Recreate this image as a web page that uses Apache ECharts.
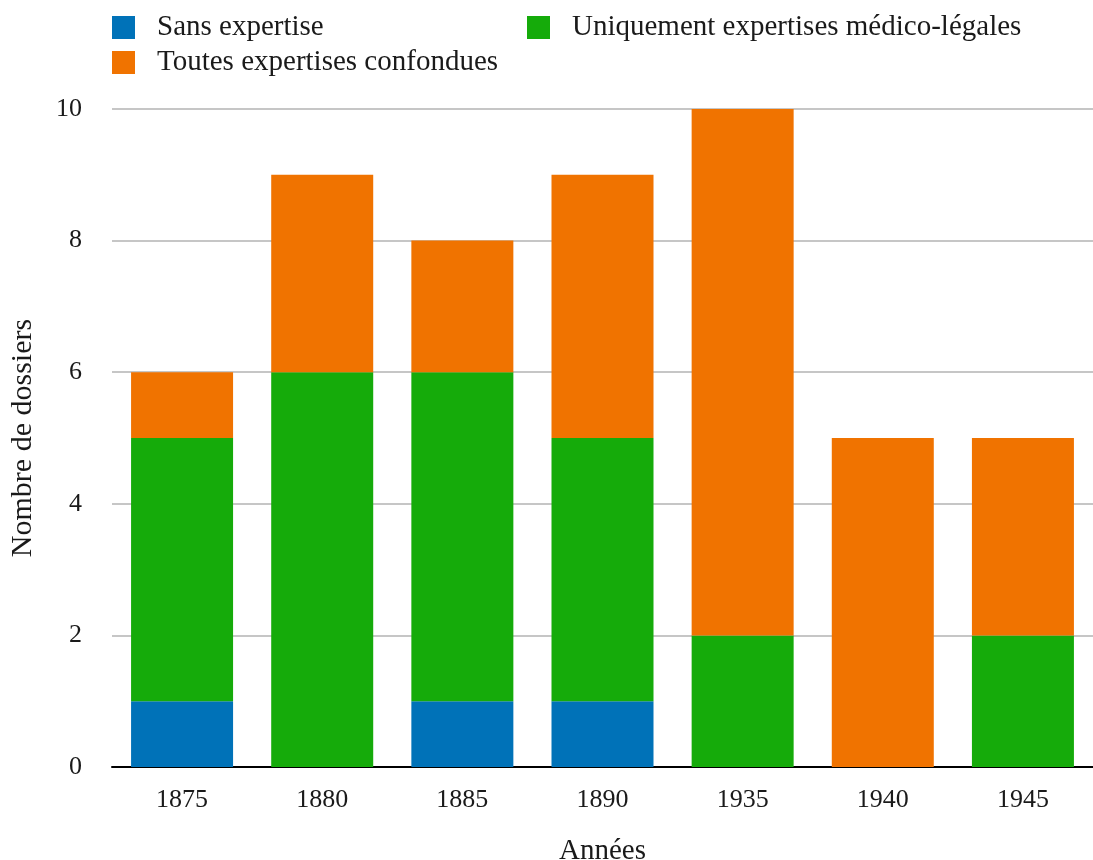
<!DOCTYPE html>
<html>
<head>
<meta charset="utf-8">
<script src="https://cdn.jsdelivr.net/npm/echarts@6/dist/echarts.min.js"></script>
<style>
  html, body { margin: 0; padding: 0; background: #fff; }
  #chart { width: 1093px; height: 860px; }
</style>
</head>
<body>
<div id="chart"></div>
<script>
// données
const years = ['1875', '1880', '1885', '1890', '1935', '1940', '1945'];
const sansExpertise = [1, 0, 1, 1, 0, 0, 0];
const medicoLegales = [4, 6, 5, 4, 2, 0, 2];
const toutesExpertises = [1, 3, 2, 4, 8, 5, 3];
const yTicks = [0, 2, 4, 6, 8, 10];

const FONT = '"Liberation Serif", serif';
const chart = echarts.init(document.getElementById('chart'));

const legendText = { fontFamily: FONT, fontSize: 29, color: '#1a1a1a', padding: [0, 0, 0, 17] };

// une légende par entrée pour placer chaque case comme sur l'original
function legendAt(name, left, top) {
  return {
    left: left,
    top: top,
    padding: 0,
    itemWidth: 23,
    itemHeight: 23,
    icon: 'rect',
    data: [name],
    textStyle: legendText
  };
}

const option = {
  animation: false,
  textStyle: { fontFamily: FONT },
  legend: [
    legendAt('Sans expertise', 112, 13),
    legendAt('Toutes expertises confondues', 112, 48),
    legendAt('Uniquement expertises médico-légales', 527, 13)
  ],
  grid: { left: 112, right: 0, top: 109, bottom: 93, outerBoundsMode: 'none' },
  xAxis: {
    type: 'category',
    data: years,
    name: 'Années',
    nameLocation: 'middle',
    nameGap: 70,
    nameTextStyle: { fontFamily: FONT, fontSize: 29, color: '#1a1a1a' },
    axisLine: { lineStyle: { color: '#000', width: 2 } },
    axisTick: { show: false },
    axisLabel: { fontFamily: FONT, fontSize: 26, color: '#1a1a1a', margin: 20 }
  },
  yAxis: {
    type: 'value',
    min: yTicks[0],
    max: yTicks[yTicks.length - 1],
    interval: 2,
    name: 'Nombre de dossiers',
    nameLocation: 'middle',
    nameGap: 74,
    nameTextStyle: { fontFamily: FONT, fontSize: 30, color: '#1a1a1a' },
    axisLine: { show: false },
    axisTick: { show: false },
    axisLabel: { fontFamily: FONT, fontSize: 26, color: '#1a1a1a', margin: 30 },
    splitLine: { lineStyle: { color: '#b3b3b3', width: 1.5 } }
  },
  series: [
    {
      name: 'Sans expertise',
      type: 'bar',
      stack: 'total',
      barWidth: 102,
      data: sansExpertise,
      itemStyle: { color: '#0072b8' }
    },
    {
      name: 'Uniquement expertises médico-légales',
      type: 'bar',
      stack: 'total',
      barWidth: 102,
      data: medicoLegales,
      itemStyle: { color: '#15ab0a' }
    },
    {
      name: 'Toutes expertises confondues',
      type: 'bar',
      stack: 'total',
      barWidth: 102,
      data: toutesExpertises,
      itemStyle: { color: '#f07300' }
    }
  ]
};

chart.setOption(option);
</script>
</body>
</html>
